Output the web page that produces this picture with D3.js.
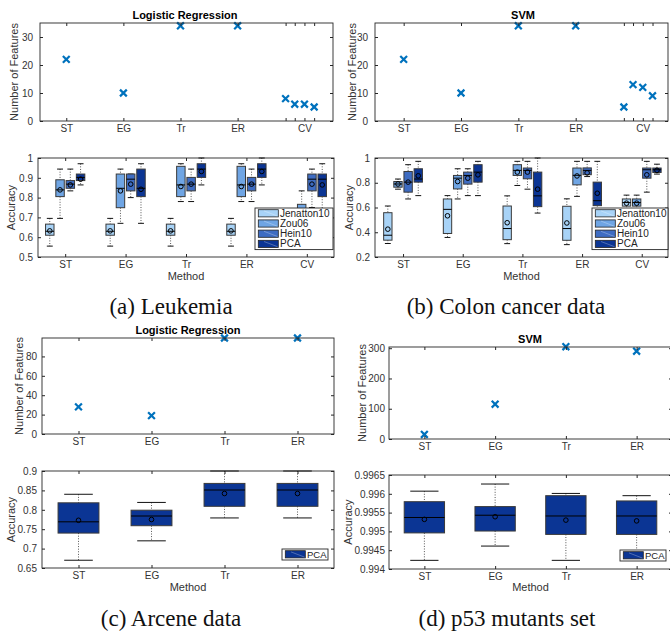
<!DOCTYPE html>
<html>
<head>
<meta charset="utf-8">
<script src="https://cdn.jsdelivr.net/npm/d3@7"></script>
<style>
  body { margin: 0; background: #fff; }
  text { font-family: "Liberation Sans", Arial, Helvetica, sans-serif; }
</style>
</head>
<body>
<script>
'use strict';

// ---- data ----
const methods = ["ST", "EG", "Tr", "ER", "CV"];
const methods4 = ["ST", "EG", "Tr", "ER"];
const seriesNames = ["Jenatton10", "Zou06", "Hein10", "PCA"];

// number of selected features (CV has one mark per sub-run)
const featPos = [1, 2, 3, 4, 4.84, 5, 5.17, 5.34];
const featTickLabels = ["ST", "EG", "Tr", "ER", "", "", "CV", ""];
const leukLR = [22, 10, 34, 34, 8, 6, 6, 5];
const colonSVM = [22, 10, 34, 34, 5, 13, 12, 9];
const arceneLR = [28, 19, 99, 99];
const p53SVM = [15, 115, 305, 290];

// box stats per method: [low whisker, q1, median, q3, high whisker, mean]
const leukJen = [[0.555, 0.61, 0.63, 0.666, 0.695, 0.632], [0.555, 0.61, 0.63, 0.666, 0.695, 0.632],
  [0.555, 0.61, 0.63, 0.666, 0.695, 0.632], [0.555, 0.61, 0.63, 0.666, 0.695, 0.632], [0.555, 0.61, 0.63, 0.666, 0.695, 0.632]];
const leukZou = [[0.695, 0.805, 0.839, 0.89, 0.944, 0.839], [0.67, 0.749, 0.847, 0.919, 0.944, 0.834],
  [0.78, 0.805, 0.864, 0.958, 0.971, 0.856], [0.78, 0.805, 0.864, 0.958, 0.971, 0.856], [0.65, 0.7, 0.73, 0.766, 0.834, 0.73]];
const leukHein = [[0.834, 0.847, 0.868, 0.886, 0.944, 0.864], [0.8, 0.834, 0.893, 0.919, 0.919, 0.868],
  [0.78, 0.834, 0.868, 0.902, 0.944, 0.868], [0.78, 0.834, 0.868, 0.902, 0.944, 0.868], [0.75, 0.834, 0.893, 0.919, 0.944, 0.868]];
const leukPCA = [[0.864, 0.886, 0.902, 0.919, 0.971, 0.893], [0.67, 0.805, 0.847, 0.944, 0.971, 0.842],
  [0.864, 0.902, 0.944, 0.971, 1.0, 0.932], [0.864, 0.902, 0.944, 0.971, 1.0, 0.932], [0.7, 0.805, 0.893, 0.919, 0.971, 0.864]];

const colonJen = [[0.309, 0.336, 0.376, 0.558, 0.612, 0.425], [0.358, 0.39, 0.585, 0.669, 0.696, 0.533],
  [0.308, 0.34, 0.43, 0.612, 0.694, 0.477], [0.3, 0.335, 0.43, 0.61, 0.67, 0.475], [0.59, 0.611, 0.64, 0.669, 0.7, 0.635]];
const colonZou = [[0.748, 0.764, 0.79, 0.81, 0.83, 0.79], [0.669, 0.75, 0.837, 0.859, 0.913, 0.81],
  [0.778, 0.859, 0.9, 0.946, 0.973, 0.886], [0.69, 0.783, 0.86, 0.919, 0.973, 0.855], [0.59, 0.611, 0.64, 0.669, 0.7, 0.635]];
const colonHein = [[0.669, 0.724, 0.805, 0.891, 0.946, 0.805], [0.696, 0.789, 0.859, 0.886, 0.913, 0.837],
  [0.748, 0.832, 0.9, 0.919, 0.973, 0.886], [0.85, 0.865, 0.9, 0.92, 0.973, 0.88], [0.724, 0.837, 0.905, 0.919, 0.973, 0.864]];
const colonPCA = [[0.696, 0.805, 0.83, 0.913, 0.973, 0.856], [0.696, 0.805, 0.886, 0.946, 0.973, 0.864],
  [0.555, 0.607, 0.694, 0.886, 1.0, 0.748], [0.56, 0.615, 0.655, 0.805, 0.973, 0.715], [0.87, 0.883, 0.905, 0.919, 0.95, 0.9]];

const arcenePCA = [[0.67, 0.74, 0.769, 0.818, 0.84, 0.773], [0.72, 0.759, 0.784, 0.799, 0.819, 0.775],
  [0.779, 0.809, 0.851, 0.868, 0.9, 0.842], [0.779, 0.809, 0.851, 0.868, 0.9, 0.842]];
const p53PCA = [[0.99423, 0.99496, 0.99537, 0.99579, 0.99607, 0.99532], [0.99461, 0.99501, 0.99543, 0.99566, 0.99626, 0.99539],
  [0.99423, 0.99492, 0.99541, 0.99595, 0.99601, 0.9953], [0.99440, 0.99492, 0.99541, 0.99581, 0.99595, 0.99528]];

// tick labels
const ticksLeukFeat = [0, 10, 20, 30];
const ticksLeukAcc = [0.5, 0.6, 0.7, 0.8, 0.9, 1];
const ticksColonAcc = [0.2, 0.4, 0.6, 0.8, 1];
const ticksArceneFeat = [0, 20, 40, 60, 80];
const ticksArceneAcc = [0.65, 0.7, 0.75, 0.8, 0.85, 0.9];
const ticksP53Feat = [0, 100, 200, 300];
const ticksP53Acc = [0.994, 0.9945, 0.995, 0.9955, 0.996, 0.9965];

const boxColors = ["#a8d3f7", "#6fa5e4", "#3e6cc2", "#0b3594"];
const markColor = "#0072bd";
const ink = "#262626";

const svg = d3.select("body").append("svg").attr("width", 670).attr("height", 634);

// axes box with inward ticks on all four sides (MATLAB look)
function frame(o) {
  const x = d3.scaleLinear().domain(o.xd).range(o.xr);
  const y = d3.scaleLinear().domain(o.yd).range(o.yr);
  const left = o.xr[0], right = o.xr[1], top = o.yr[1], bot = o.yr[0];
  const g = svg.append("g");
  g.append("rect").attr("x", left).attr("y", top).attr("width", right - left).attr("height", bot - top).attr("fill", "#fff");
  const marks = g.append("g");
  const fmt = d => String(+(+d).toFixed(4));

  g.append("g").attr("transform", `translate(0,${bot})`)
    .call(d3.axisBottom(x).tickValues(o.xt).tickFormat((d, i) => o.xl[i]).tickSize(-3).tickPadding(4));
  g.append("g").attr("transform", `translate(0,${top})`)
    .call(d3.axisTop(x).tickValues(o.xt).tickFormat("").tickSize(-3));
  g.append("g").attr("transform", `translate(${left},0)`)
    .call(d3.axisLeft(y).tickValues(o.yt).tickFormat(fmt).tickSize(-3).tickPadding(o.yp || 5));
  g.append("g").attr("transform", `translate(${right},0)`)
    .call(d3.axisRight(y).tickValues(o.yt).tickFormat("").tickSize(-3));
  g.selectAll(".domain").remove();
  g.selectAll(".tick line").attr("stroke", ink);
  g.selectAll(".tick text").attr("fill", "#333").style("font-size", "10px");
  g.append("rect").attr("x", left).attr("y", top).attr("width", right - left).attr("height", bot - top)
    .attr("fill", "none").attr("stroke", ink).attr("stroke-width", 0.9);

  if (o.title) {
    g.append("text").attr("x", o.tx).attr("y", o.ty).attr("text-anchor", "middle")
      .style("font-size", "11px").style("font-weight", "bold").attr("fill", "#000").text(o.title);
  }
  if (o.ylab) {
    g.append("text").attr("transform", `translate(${o.ylx},${(top + bot) / 2}) rotate(-90)`)
      .attr("text-anchor", "middle").style("font-size", "11px").attr("fill", "#333").text(o.ylab);
  }
  if (o.xlab) {
    g.append("text").attr("x", (left + right) / 2).attr("y", o.xly).attr("text-anchor", "middle")
      .style("font-size", "11px").attr("fill", "#333").text(o.xlab);
  }
  return {g, marks, x, y};
}

function crosses(p, xs, ys) {
  p.marks.selectAll("path.mk").data(ys).join("path")
    .attr("class", "mk")
    .attr("transform", (d, i) => `translate(${p.x(xs[i])},${p.y(d)})`)
    .attr("d", "M-3.4,-3.4L3.4,3.4M-3.4,3.4L3.4,-3.4")
    .attr("stroke", markColor).attr("stroke-width", 2.2).attr("fill", "none");
}

function boxes(p, stats, color, off, w) {
  const bg = p.marks.append("g");
  stats.forEach((s, i) => {
    const cx = p.x(i + 1 + off);
    const hw = (p.x(w) - p.x(0)) / 2;
    const [lo, q1, med, q3, hi, mean] = s;
    // whiskers
    bg.append("line").attr("x1", cx).attr("x2", cx).attr("y1", p.y(hi)).attr("y2", p.y(q3))
      .attr("stroke", "#555").attr("stroke-dasharray", "1,1.6");
    bg.append("line").attr("x1", cx).attr("x2", cx).attr("y1", p.y(q1)).attr("y2", p.y(lo))
      .attr("stroke", "#555").attr("stroke-dasharray", "1,1.6");
    [lo, hi].forEach(v => bg.append("line").attr("x1", cx - hw * 0.7).attr("x2", cx + hw * 0.7)
      .attr("y1", p.y(v)).attr("y2", p.y(v)).attr("stroke", "#111"));
    bg.append("rect").attr("x", cx - hw).attr("width", 2 * hw)
      .attr("y", p.y(q3)).attr("height", p.y(q1) - p.y(q3))
      .attr("fill", color).attr("stroke", "#3a3a3a").attr("stroke-width", 1);
    bg.append("line").attr("x1", cx - hw).attr("x2", cx + hw).attr("y1", p.y(med)).attr("y2", p.y(med))
      .attr("stroke", "#000").attr("stroke-width", 1);
    bg.append("circle").attr("cx", cx).attr("cy", p.y(mean)).attr("r", 2.3)
      .attr("fill", "none").attr("stroke", "#000").attr("stroke-width", 1);
  });
}

function legend(p, x0, y0, w, names, colors, fs) {
  const rowH = 10.2;
  const h = names.length * rowH + 0.8;
  const lg = p.g.append("g");
  lg.append("rect").attr("x", x0).attr("y", y0).attr("width", w).attr("height", h)
    .attr("fill", "#fff").attr("stroke", ink).attr("stroke-width", 0.9);
  names.forEach((n, i) => {
    const cy = y0 + 5.3 + i * rowH;
    lg.append("rect").attr("x", x0 + 3.3).attr("y", cy - 3.6).attr("width", 20).attr("height", 7.2)
      .attr("fill", colors[i]).attr("stroke", "#222").attr("stroke-width", 0.8);
    lg.append("line").attr("x1", x0 + 9).attr("y1", cy - 2.4).attr("x2", x0 + 22.5).attr("y2", cy + 2.8)
      .attr("stroke", "#fff").attr("stroke-opacity", 0.35).attr("stroke-width", 0.8);
    lg.append("text").attr("x", x0 + 25).attr("y", cy + 3.5).style("font-size", fs + "px")
      .attr("fill", "#222").text(n);
  });
}

function caption(x, y, t) {
  svg.append("text").attr("x", x).attr("y", y).attr("text-anchor", "middle")
    .style("font-family", '"Liberation Serif", "Times New Roman", serif').style("font-size", "23px")
    .attr("fill", "#111").text(t);
}

const groupOff = [-0.255, -0.085, 0.085, 0.255];

// ---- (a) Leukemia ----
const aTop = frame({xd: [0.54, 5.67], xr: [40, 333], yd: [0, 35], yr: [121, 23],
  xt: featPos, xl: featTickLabels, yt: ticksLeukFeat, yp: 7,
  title: "Logistic Regression", tx: 185, ty: 19, ylab: "Number of Features", ylx: 18});
crosses(aTop, featPos, leukLR);

const aBox = frame({xd: [0.55, 5.45], xr: [38, 334], yd: [0.5, 1], yr: [257, 158],
  xt: [1, 2, 3, 4, 5], xl: methods, yt: ticksLeukAcc,
  ylab: "Accuracy", ylx: 15, xlab: "Method", xly: 280});
[leukJen, leukZou, leukHein, leukPCA].forEach((s, i) => boxes(aBox, s, boxColors[i], groupOff[i], 0.14));
legend(aBox, 255, 208, 78, seriesNames, boxColors, 10);

// ---- (b) Colon cancer ----
const bTop = frame({xd: [0.5, 5.61], xr: [375, 668], yd: [0, 35], yr: [121, 23],
  xt: featPos, xl: featTickLabels, yt: ticksLeukFeat, yp: 7,
  title: "SVM", tx: 523, ty: 19, ylab: "Number of Features", ylx: 356});
crosses(bTop, featPos, colonSVM);

const bBox = frame({xd: [0.53, 5.44], xr: [375, 668], yd: [0.2, 1], yr: [257, 158],
  xt: [1, 2, 3, 4, 5], xl: methods, yt: ticksColonAcc,
  ylab: "Accuracy", ylx: 353, xlab: "Method", xly: 280});
[colonJen, colonZou, colonHein, colonPCA].forEach((s, i) => boxes(bBox, s, boxColors[i], groupOff[i], 0.14));
legend(bBox, 592, 208, 76, seriesNames, boxColors, 10);

// ---- (c) Arcene ----
const cTop = frame({xd: [0.5, 4.5], xr: [42, 334], yd: [0, 99], yr: [434, 338],
  xt: [1, 2, 3, 4], xl: methods4, yt: ticksArceneFeat, yp: 5,
  title: "Logistic Regression", tx: 188, ty: 334, ylab: "Number of Features", ylx: 23});
crosses(cTop, [1, 2, 3, 4], arceneLR);

const cBox = frame({xd: [0.5, 4.5], xr: [42, 334], yd: [0.65, 0.9], yr: [568, 471],
  xt: [1, 2, 3, 4], xl: methods4, yt: ticksArceneAcc,
  ylab: "Accuracy", ylx: 15, xlab: "Method", xly: 591});
boxes(cBox, arcenePCA, boxColors[3], 0, 0.56);
legend(cBox, 282, 549, 46, ["PCA"], [boxColors[3]], 9.5);

// ---- (d) p53 ----
const dTop = frame({xd: [0.5, 4.5], xr: [389, 672], yd: [0, 304], yr: [439, 347],
  xt: [1, 2, 3, 4], xl: methods4, yt: ticksP53Feat, yp: 4,
  title: "SVM", tx: 530, ty: 343, ylab: "Number of Features", ylx: 366});
crosses(dTop, [1, 2, 3, 4], p53SVM);

const dBox = frame({xd: [0.5, 4.5], xr: [389, 672], yd: [0.994, 0.9965], yr: [569, 475],
  xt: [1, 2, 3, 4], xl: methods4, yt: ticksP53Acc, yp: 4,
  ylab: "Accuracy", ylx: 352, xlab: "Method", xly: 591});
boxes(dBox, p53PCA, boxColors[3], 0, 0.57);
legend(dBox, 620, 550, 46, ["PCA"], [boxColors[3]], 9.5);

// ---- captions ----
caption(171, 314, "(a) Leukemia");
caption(506, 314, "(b) Colon cancer data");
caption(171, 626, "(c) Arcene data");
caption(507, 626, "(d) p53 mutants set");
</script>
</body>
</html>
